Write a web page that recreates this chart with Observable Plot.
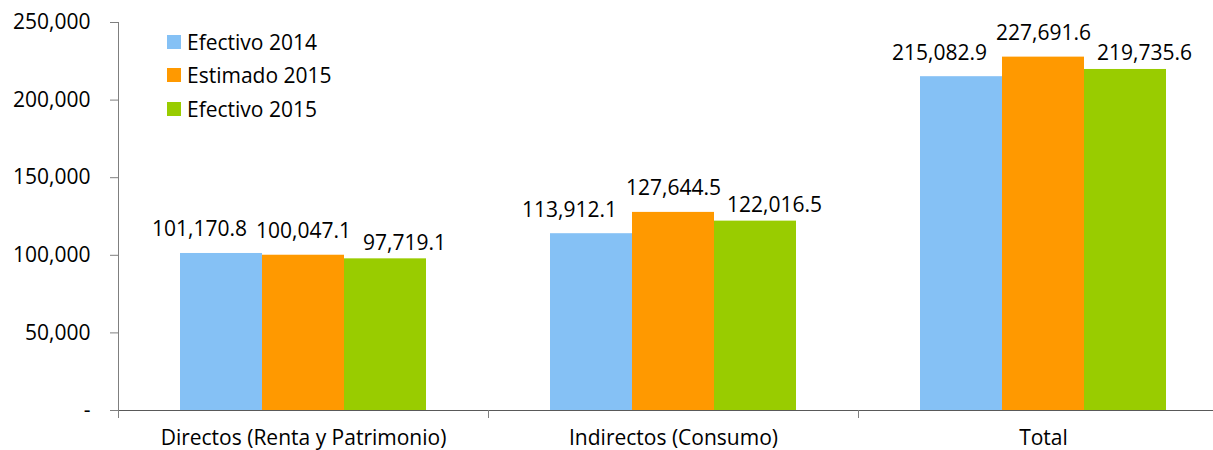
<!DOCTYPE html>
<html>
<head>
<meta charset="utf-8">
<script src="https://cdn.jsdelivr.net/npm/d3@7"></script>
<script src="https://cdn.jsdelivr.net/npm/@observablehq/plot@0.6"></script>
<style>
  html, body { margin: 0; padding: 0; background: #fff; }
  #wrap { position: relative; width: 1213px; height: 450px; overflow: hidden; font-family: "Open Sans", sans-serif; }
  #legend { position: absolute; left: 167px; top: 25px; font-size: 21px; color: #000; }
  #legend .row { display: flex; align-items: center; height: 33.5px; }
  #legend .sw { width: 14px; height: 14px; margin-right: 6px; }
</style>
</head>
<body>
<div id="wrap"><div id="legend"></div></div>
<script>
const categories = ["Directos (Renta y Patrimonio)", "Indirectos (Consumo)", "Total"];
const series = ["Efectivo 2014", "Estimado 2015", "Efectivo 2015"];
const colors = ["#85C1F5", "#FF9900", "#99CC00"];
const efectivo2014 = [101170.8, 113912.1, 215082.9];
const estimado2015 = [100047.1, 127644.5, 227691.6];
const efectivo2015 = [97719.1, 122016.5, 219735.6];
const yTicks = [0, 50000, 100000, 150000, 200000, 250000];

// label nudges per series (layout only, like the reference's shifted data labels)
const labelDx = [-22, 0, 19];
const labelDy = [-17, -17, -9];

const valuesBySeries = [efectivo2014, estimado2015, efectivo2015];
const data = [];
categories.forEach((c, i) => series.forEach((s, j) => data.push({cat: c, series: s, value: valuesBySeries[j][i], j})));

const W = 1213, H = 450, mL = 118, mR = -15, mT = 22, mB = 40;
const fmtLabel = d3.format(",.1f");
const fmtTick = d => d === 0 ? "-" : d3.format(",")(d);
const axisColor = "#7f7f7f";
const FS = 21;

const textMarks = series.map((s, j) =>
  Plot.text(data.filter(d => d.j === j), {fx: "cat", x: "series", y: "value", text: d => fmtLabel(d.value),
    lineAnchor: "bottom", dx: labelDx[j], dy: labelDy[j], fontSize: FS, fill: "#000"})
);

const chart = Plot.plot({
  width: W, height: H,
  marginLeft: mL, marginRight: mR, marginTop: mT, marginBottom: mB,
  style: {fontFamily: "Open Sans, sans-serif", fontSize: FS + "px", color: "#000", overflow: "visible"},
  fx: {domain: categories, padding: 0, label: null},
  x: {domain: series, paddingInner: 0, paddingOuter: 62 / 82, axis: null},
  y: {domain: [0, 250000], axis: null},
  color: {domain: series, range: colors},
  marks: [
    Plot.barY(data, {fx: "cat", x: "series", y: "value", fill: "series"}),
    ...textMarks,
    Plot.frame({anchor: "left", facet: "super", stroke: axisColor}),
    Plot.frame({anchor: "bottom", facet: "super", stroke: "#595959"}),
    Plot.frame({anchor: "left", insetTop: H - mT - mB, insetBottom: -7, stroke: axisColor}),
    Plot.axisY({ticks: yTicks, tickFormat: fmtTick, tickSize: 8, tickPadding: 20, stroke: axisColor,
      fill: "#000", fontSize: FS, label: null}),
    Plot.axisFx({anchor: "bottom", tickSize: 0, tickPadding: 20, fontSize: FS, fill: "#000", label: null})
  ]
});
document.getElementById("wrap").prepend(chart);

const legend = document.getElementById("legend");
series.forEach((s, i) => {
  const row = document.createElement("div");
  row.className = "row";
  const sw = document.createElement("div");
  sw.className = "sw";
  sw.style.background = colors[i];
  const t = document.createElement("span");
  t.textContent = s;
  row.append(sw, t);
  legend.append(row);
});
</script>
</body>
</html>
